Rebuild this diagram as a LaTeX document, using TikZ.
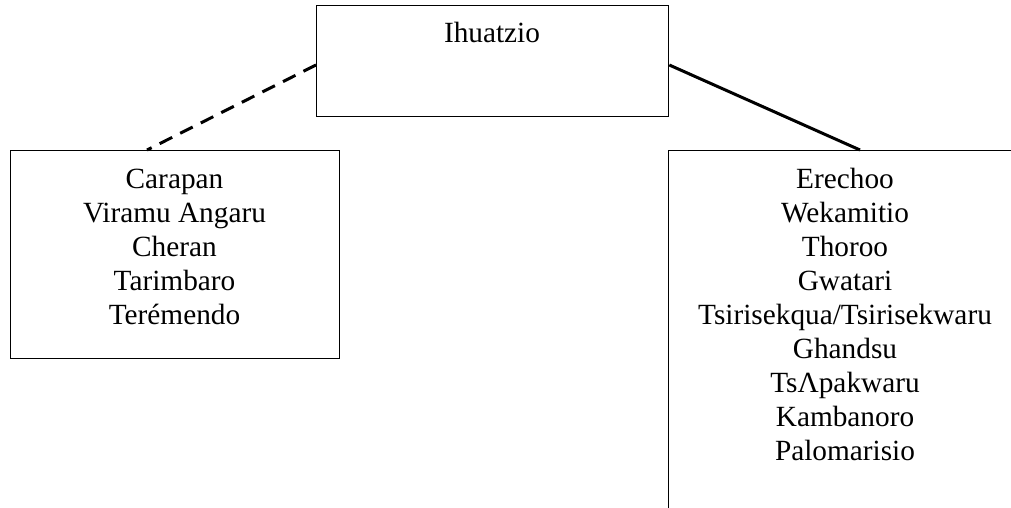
\documentclass[tikz,border=0pt]{standalone}
\usepackage{fontspec}
\setmainfont{Liberation Serif}
\usetikzlibrary{calc}
\tikzset{
  box/.style={draw=black, line width=1.3pt, rectangle, inner sep=0pt, fill=none},
  lbl/.style={inner sep=0pt, font=\fontsize{29.3}{34}\selectfont, align=center, text=black},
  link/.style={draw=black, line width=3pt},
  dashlink/.style={link, dash pattern=on 14pt off 9pt}
}
\begin{document}
\begin{tikzpicture}[x=1pt,y=-1pt]
\useasboundingbox (0,0) rectangle (1011,508);
\fill[white] (0,0) rectangle (1011,508);
\clip (0,0) rectangle (1011,508);
% boxes
\node[box, minimum width=352pt, minimum height=111pt, anchor=north west] (top) at (316,5) {};
\node[box, minimum width=329pt, minimum height=208pt, anchor=north west] (left) at (10,150) {};
\node[box, minimum width=354pt, minimum height=420pt, anchor=north west] (right) at (668,150) {};
% texts
\node[lbl, anchor=base] (ihu) at (492,43) {Ihuatzio};
\node[lbl, anchor=north] (leftlist) at (174.5,164.2) {\strut Carapan\\Viramu Angaru\\Cheran\\Tarimbaro\\Terémendo};
\node[lbl, anchor=north] (rightlist) at (845,164.2) {\strut Erechoo\\Wekamitio\\Thoroo\\Gwatari\\Tsirisekqua/Tsirisekwaru\\Ghandsu\\TsΛpakwaru\\Kambanoro\\Palomarisio};
% connectors
\coordinate (dl) at ($(top.north west)+(0,60)$);
\coordinate (dr) at ($(left.north west)+(137,0)$);
\coordinate (sl) at ($(top.north east)+(0,60)$);
\coordinate (sr) at ($(right.north west)+(192,0)$);
\draw[dashlink] (dl) -- (dr);
\draw[link] (sl) -- (sr);
\end{tikzpicture}
\end{document}
